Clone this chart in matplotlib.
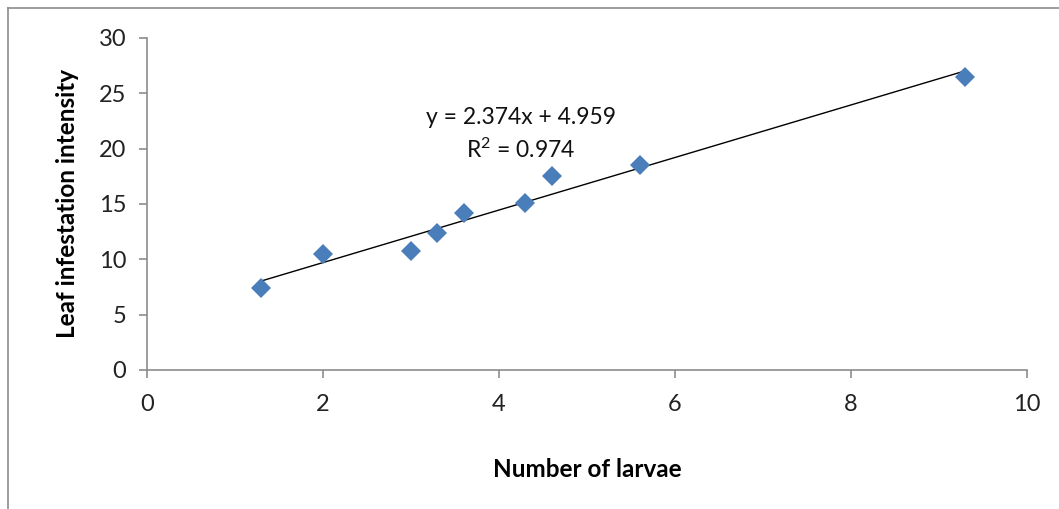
import numpy as np
import matplotlib
matplotlib.use("Agg")
import matplotlib.pyplot as plt
from matplotlib.lines import Line2D

# data
larvae = [1.3, 2.0, 3.0, 3.3, 3.6, 4.3, 4.6, 5.6, 9.3]
infestation = [7.4, 10.5, 10.75, 12.4, 14.2, 15.1, 17.5, 18.5, 26.5]
x_ticks = [0, 2, 4, 6, 8, 10]
y_ticks = [0, 5, 10, 15, 20, 25, 30]
slope, intercept = 2.374, 4.959
eq_line = "y = 2.374x + 4.959"
r2_line = "R$^2$ = 0.974"

plt.rcParams['font.family'] = ['Lato', 'DejaVu Sans']
plt.rcParams['mathtext.fontset'] = 'custom'
plt.rcParams['mathtext.rm'] = 'Lato'
plt.rcParams['mathtext.it'] = 'Lato:italic'
plt.rcParams['mathtext.default'] = 'rm'

fig = plt.figure(figsize=(10.59, 5.09), dpi=100)
W, H = 1059, 509
ax = fig.add_axes([147 / W, 1 - 370 / H, (1027 - 147) / W, (370 - 38) / H])

# chart border (only top and left visible in the crop)
grey = '#8c8c8c'
fig.add_artist(Line2D([8 / W, 1], [1 - 8 / H, 1 - 8 / H], color=grey, lw=1.2,
                      transform=fig.transFigure))
fig.add_artist(Line2D([8 / W, 8 / W], [0, 1 - 8 / H], color=grey, lw=1.2,
                      transform=fig.transFigure))

# trendline over the data range
xs = np.array([min(larvae), max(larvae)])
ax.plot(xs, slope * xs + intercept, color='black', lw=1.0, zorder=2)

ax.plot(larvae, infestation, 'D', color='#4a7ebb', markersize=10,
        markeredgewidth=0, zorder=3)

ax.text(4.25, 22.85, eq_line, ha='center', va='center', fontsize=16.5,
        color='#111111')
ax.text(4.25, 19.9, r2_line, ha='center', va='center', fontsize=16.5,
        color='#111111')

ax.set_xlim(0, 10)
ax.set_ylim(0, 30)
ax.set_xticks(x_ticks)
ax.set_yticks(y_ticks)
for s in ['top', 'right']:
    ax.spines[s].set_visible(False)
for s in ['left', 'bottom']:
    ax.spines[s].set_color(grey)
    ax.spines[s].set_linewidth(1.2)
ax.tick_params(axis='both', colors=grey, length=6, width=1.2, labelsize=17,
               labelcolor='#222222')
ax.tick_params(axis='x', pad=11)
ax.tick_params(axis='y', pad=9)

ax.set_xlabel('Number of larvae', fontsize=17.5, fontweight='bold', labelpad=31)
ax.set_ylabel('Leaf infestation intensity', fontsize=17.5, fontweight='bold',
              labelpad=14)

fig.savefig('out.png', dpi=100)
